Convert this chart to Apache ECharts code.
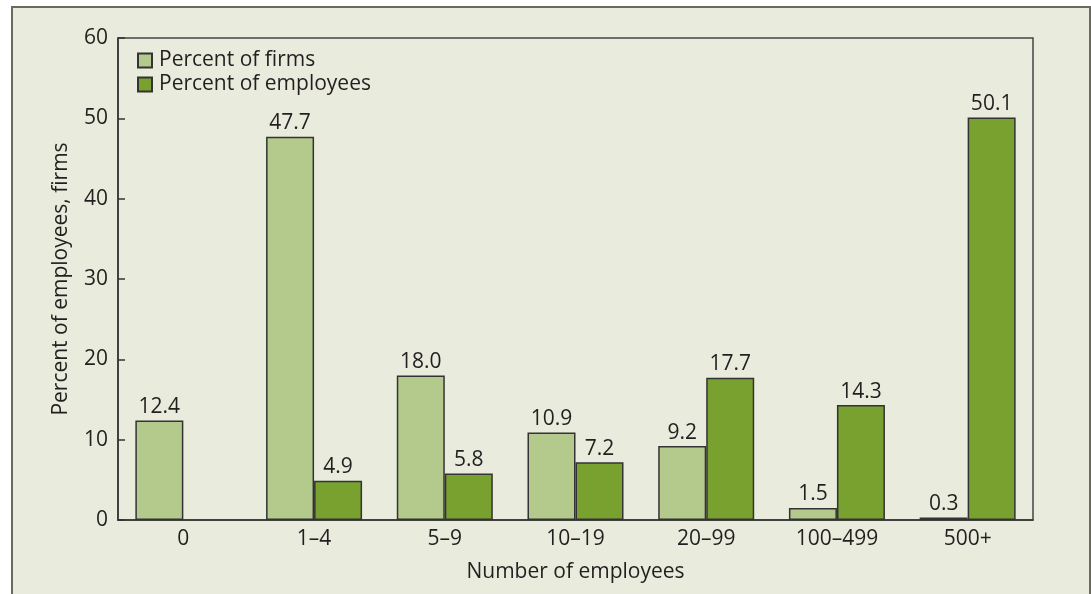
<!DOCTYPE html>
<html>
<head>
<meta charset="utf-8">
<script src="https://cdn.jsdelivr.net/npm/echarts@6/dist/echarts.min.js"></script>
<style>
html,body{margin:0;padding:0;background:#ffffff;}
#frame{position:absolute;left:11px;top:6px;width:1076px;height:600px;background:#e9ebdc;border-left:2px solid #6a6a62;border-top:2px solid #6a6a62;border-right:2px solid #6a6a62;}
#chart{position:absolute;left:0;top:0;width:1091px;height:594px;}
</style>
</head>
<body>
<div id="frame"></div>
<div id="chart"></div>
<script>
const categories = ['0', '1–4', '5–9', '10–19', '20–99', '100–499', '500+'];
const percentFirms = [12.4, 47.7, 18.0, 10.9, 9.2, 1.5, 0.3];
const percentEmployees = [null, 4.9, 5.8, 7.2, 17.7, 14.3, 50.1];
const yTicks = [0, 10, 20, 30, 40, 50, 60];

const FONT = '"Open Sans", "Liberation Sans", Arial, sans-serif';
const TXT = '#231f20';
const FS = 21;
const FW = 500;

const chart = echarts.init(document.getElementById('chart'), null, {renderer: 'canvas'});
const labelCfg = {
  show: true, position: 'top', distance: 3,
  fontSize: FS, fontWeight: FW, color: TXT, fontFamily: FONT,
  formatter: p => (p.value == null ? '' : Number(p.value).toFixed(1))
};
chart.setOption({
  backgroundColor: 'transparent',
  animation: false,
  textStyle: {fontFamily: FONT},
  grid: {left: 118, top: 38, right: 58, bottom: 74, show: true, borderColor: '#444', borderWidth: 1.5, backgroundColor: 'transparent'},
  legend: {
    left: 132, top: 45, orient: 'vertical', itemGap: 3,
    itemWidth: 14, itemHeight: 14, icon: 'rect',
    textStyle: {fontSize: FS, fontWeight: FW, color: TXT, fontFamily: FONT, padding: [0, 0, 0, 2]},
    data: ['Percent of firms', 'Percent of employees']
  },
  xAxis: {
    type: 'category', data: categories,
    axisTick: {show: false},
    axisLine: {lineStyle: {color: '#333', width: 1.5}},
    axisLabel: {fontSize: FS, fontWeight: FW, color: TXT, margin: 9, fontFamily: FONT},
    name: 'Number of employees', nameLocation: 'middle', nameGap: 42,
    nameTextStyle: {fontSize: FS, fontWeight: FW, color: TXT, fontFamily: FONT}
  },
  yAxis: {
    type: 'value', min: 0, max: 60, interval: 10,
    axisLine: {show: true, lineStyle: {color: '#333', width: 1.5}},
    axisTick: {show: true, inside: true, length: 7, lineStyle: {color: '#333', width: 1.5}},
    splitLine: {show: false},
    axisLabel: {fontSize: FS, fontWeight: FW, color: TXT, margin: 10, fontFamily: FONT,
      formatter: v => yTicks.includes(v) ? String(v) : ''},
    name: 'Percent of employees, firms', nameLocation: 'middle', nameGap: 46,
    nameTextStyle: {fontSize: FS, fontWeight: FW, color: TXT, fontFamily: FONT}
  },
  series: [
    {name: 'Percent of firms', type: 'bar', data: percentFirms, barWidth: 48, barGap: '0%',
     itemStyle: {color: '#b4ca8c', borderColor: '#333', borderWidth: 1.5}, label: labelCfg},
    {name: 'Percent of employees', type: 'bar', data: percentEmployees, barWidth: 48, barGap: '0%',
     itemStyle: {color: '#78a130', borderColor: '#333', borderWidth: 1.5}, label: labelCfg}
  ]
});
</script>
</body>
</html>
